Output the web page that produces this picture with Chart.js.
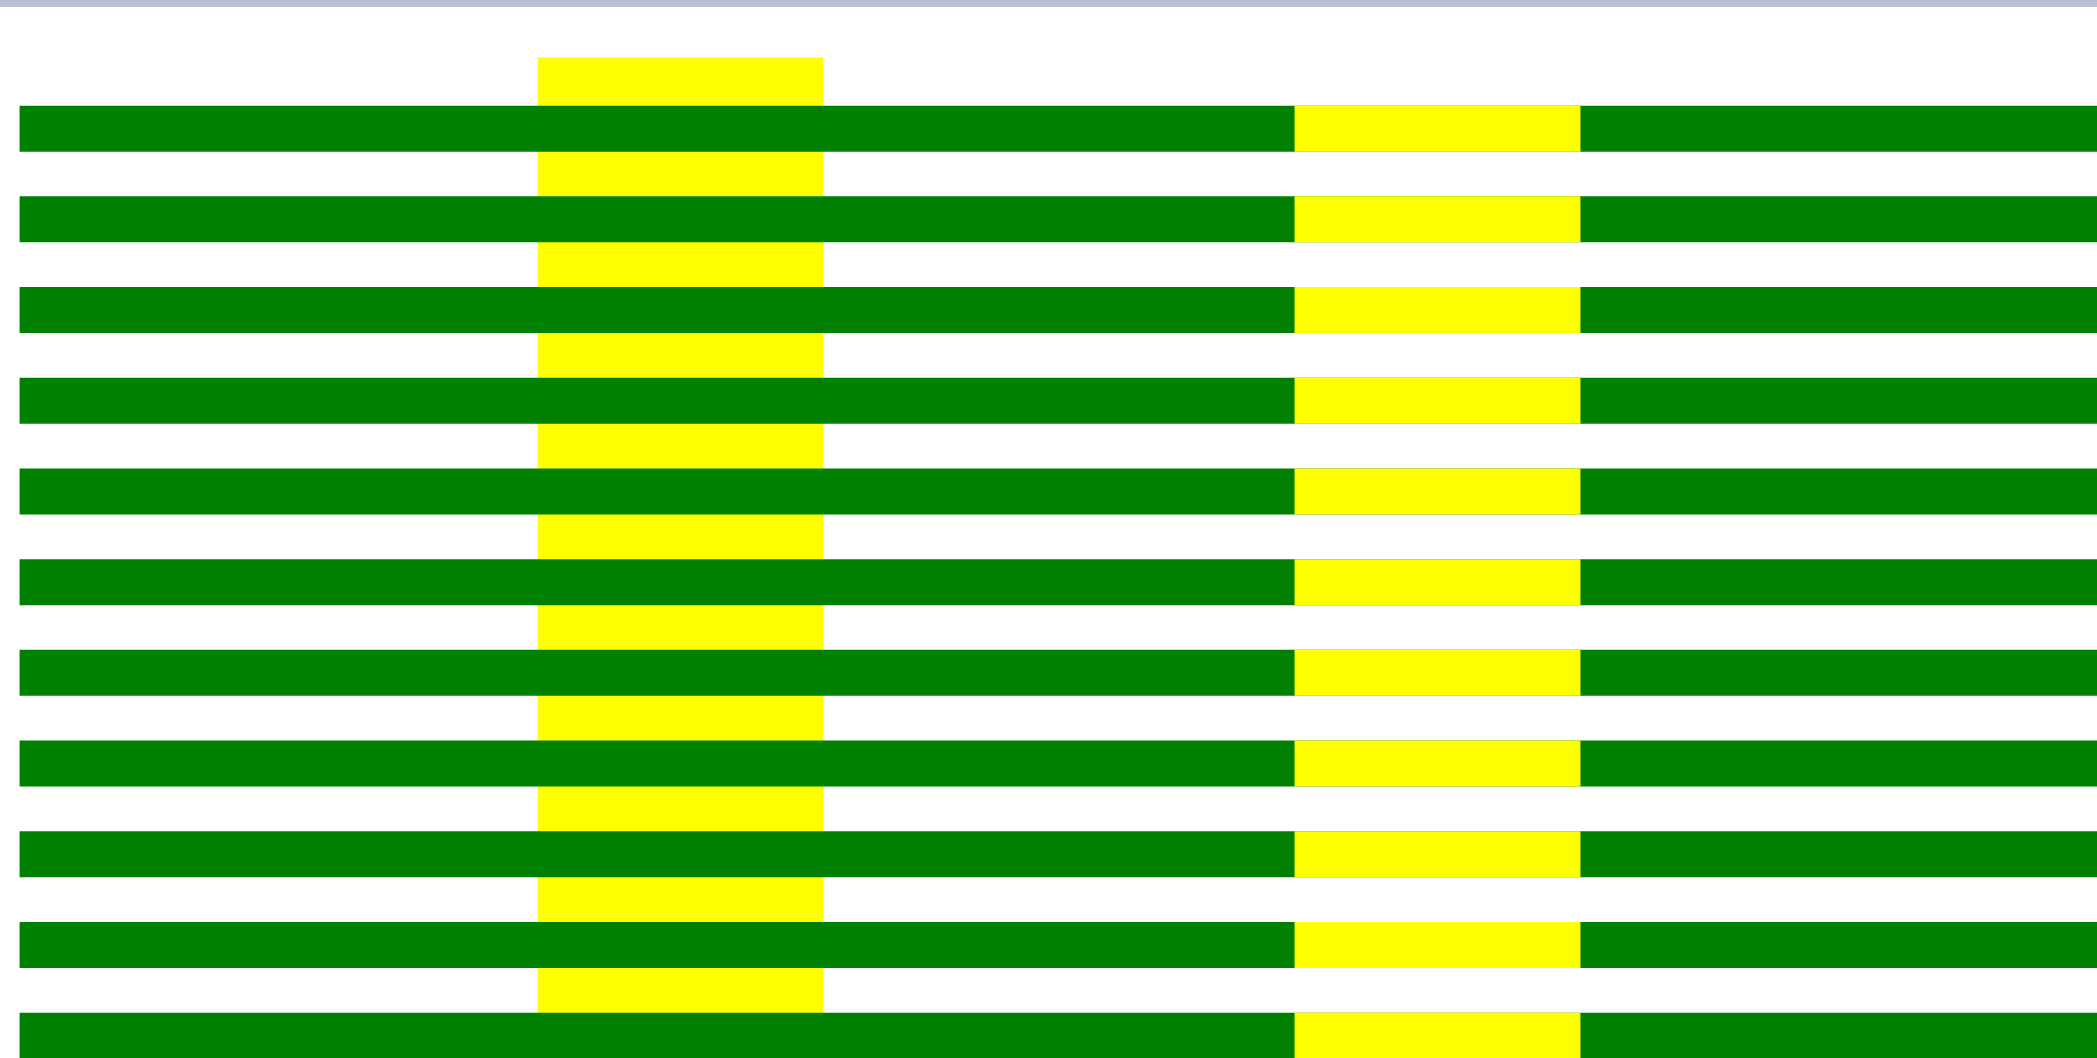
<!DOCTYPE html>
<html>
<head>
    <title>Bars</title>
    <script src="https://cdn.jsdelivr.net/npm/chart.js"></script>
    <style>
        html, body { margin: 0; padding: 0; background: #ffffff; overflow: hidden; }
        #chart-container { position: absolute; left: 0; top: 0; width: 2097px; height: 1058px; }
        #top-rule { position: absolute; left: 0; top: 0; width: 100%; height: 7px; background: #bdbfd7; }
    </style>
</head>
<body>
    <div id="chart-container"><canvas id="chart"></canvas></div>
    <div id="top-rule"></div>

    <script>
        // Rows of horizontal bars, top to bottom
        const rows = ['1', '2', '3', '4', '5', '6', '7', '8', '9', '10', '11'];

        // Green bars (x range, 0-100 across the page)
        const greenStart = [0.95, 0.95, 0.95, 0.95, 0.95, 0.95, 0.95, 0.95, 0.95, 0.95, 0.95];
        const greenEnd = [100, 100, 100, 100, 100, 100, 100, 100, 100, 100, 100];

        // Yellow pieces sitting on top of each green bar
        const yellowStart = [61.75, 61.75, 61.75, 61.75, 61.75, 61.75, 61.75, 61.75, 61.75, 61.75, 61.75];
        const yellowEnd = [75.35, 75.35, 75.35, 75.35, 75.35, 75.35, 75.35, 75.35, 75.35, 75.35, 75.35];

        // Tall yellow column behind the green bars (x centre, y range in row units)
        const columnX = [32.45];
        const columnTop = [-0.78];
        const columnBottom = [9.75];

        function buildChart() {
            const canvas = document.getElementById('chart');

            const yellowData = rows.map((r, i) => [yellowStart[i], yellowEnd[i]]);
            const greenData = rows.map((r, i) => [greenStart[i], greenEnd[i]]);
            const columnData = columnX.map((x, i) => ({ x: x, y: [columnTop[i], columnBottom[i]] }));

            new Chart(canvas, {
                type: 'bar',
                data: {
                    labels: rows,
                    datasets: [
                        {
                            label: 'Yellow',
                            data: yellowData,
                            backgroundColor: '#ffff00',
                            borderWidth: 0,
                            grouped: false,
                            barThickness: 45.3,
                            xAxisID: 'x',
                            yAxisID: 'y',
                            clip: false,
                            order: 0
                        },
                        {
                            label: 'Green',
                            data: greenData,
                            backgroundColor: '#008000',
                            borderWidth: 0,
                            grouped: false,
                            barThickness: 45.3,
                            xAxisID: 'x',
                            yAxisID: 'y',
                            clip: false,
                            order: 1
                        },
                        {
                            label: 'Column',
                            indexAxis: 'x',
                            data: columnData,
                            backgroundColor: '#ffff00',
                            borderWidth: 0,
                            grouped: false,
                            barThickness: 285,
                            xAxisID: 'x',
                            yAxisID: 'y2',
                            clip: false,
                            order: 2
                        }
                    ]
                },
                options: {
                    indexAxis: 'y',
                    responsive: true,
                    maintainAspectRatio: false,
                    animation: false,
                    layout: {
                        padding: { top: 128.65, bottom: 22.35, left: 0, right: 0 }
                    },
                    scales: {
                        x: { type: 'linear', min: 0, max: 100, offset: false, display: false },
                        y: { type: 'category', offset: false, display: false },
                        y2: { type: 'linear', axis: 'y', min: 0, max: 10, reverse: true, offset: false, display: false }
                    },
                    plugins: {
                        legend: { display: false },
                        tooltip: { enabled: false }
                    }
                }
            });
        }

        window.addEventListener('DOMContentLoaded', buildChart);
    </script>
</body>
</html>
